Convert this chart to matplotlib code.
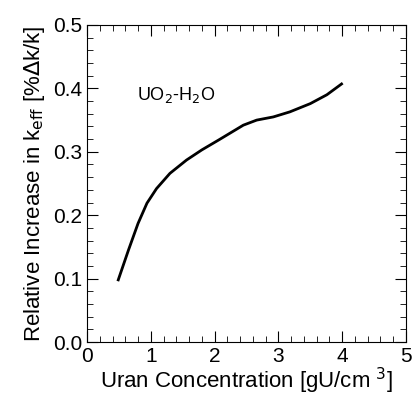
import numpy as np
import matplotlib.pyplot as plt
from matplotlib.ticker import MultipleLocator

plt.rcParams['font.family'] = ['Liberation Sans', 'DejaVu Sans']

# curve
conc = [0.49, 0.65, 0.80, 0.94, 1.09, 1.30, 1.56, 1.80, 2.07, 2.45, 2.66,
        2.92, 3.18, 3.50, 3.76, 3.99]
dk = [0.098, 0.145, 0.187, 0.219, 0.242, 0.266, 0.287, 0.303, 0.319, 0.342,
      0.350, 0.355, 0.363, 0.376, 0.390, 0.407]

fig = plt.figure(figsize=(4.18, 3.96), dpi=100)
ax = fig.add_axes([87/418, 1-342/396, (406-87)/418, (342-25)/396])

ax.plot(conc, dk, '-k', lw=2, solid_joinstyle='round')
ax.text(1.4, 0.39, 'UO$_2$-H$_2$O', fontsize=13, ha='center', va='center')

ax.set_xlim(0, 5)
ax.set_ylim(0, 0.5)
ax.xaxis.set_major_locator(MultipleLocator(1))
ax.xaxis.set_minor_locator(MultipleLocator(0.2))
ax.yaxis.set_major_locator(MultipleLocator(0.1))
ax.yaxis.set_minor_locator(MultipleLocator(0.02))
ax.yaxis.set_major_formatter(plt.FormatStrFormatter('%.1f'))
ax.tick_params(which='both', direction='in', top=True, right=True, labelsize=15)
ax.tick_params(which='major', length=8)
ax.tick_params(which='minor', length=4)

ax.set_xlabel('Uran Concentration [gU/cm $^3$]', fontsize=16, labelpad=0)
ax.set_ylabel('Relative Increase in k$_{\\rm eff}$ [%$\\Delta$k/k]', fontsize=16, labelpad=4)

fig.savefig('out.png', dpi=100)
